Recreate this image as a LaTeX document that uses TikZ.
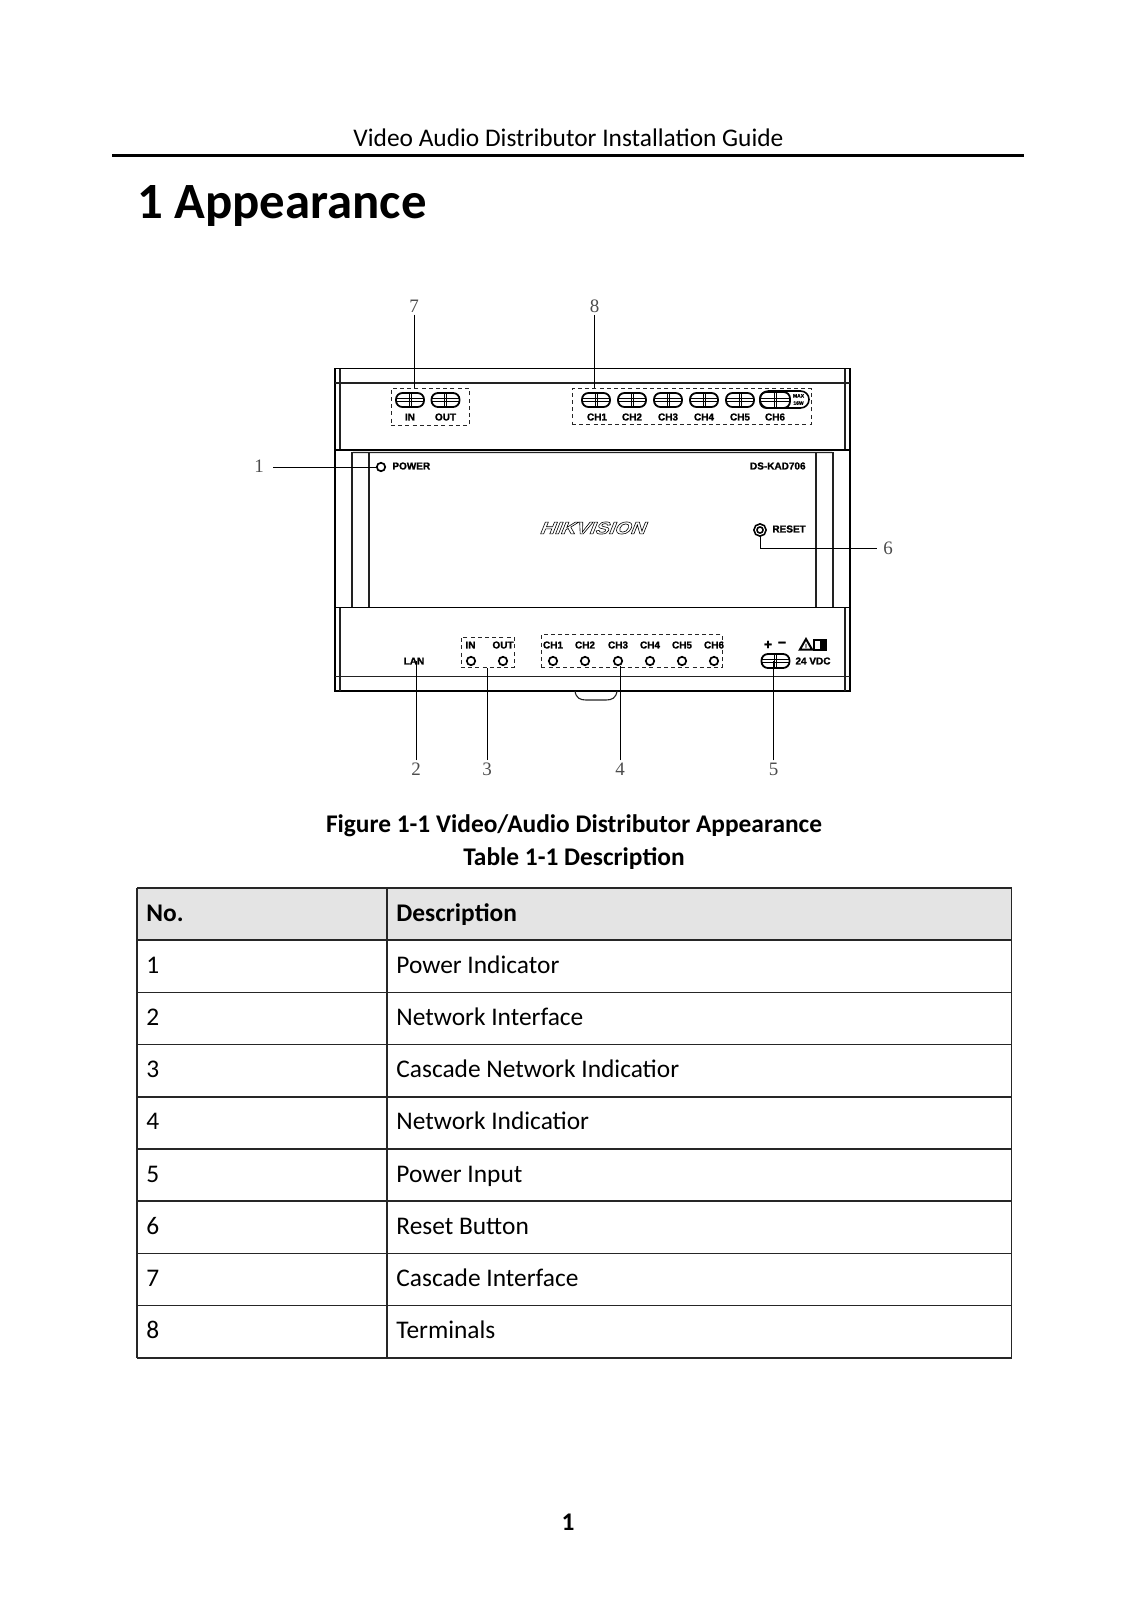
\documentclass[tikz,border=0pt]{standalone}
\usepackage{fontspec}
\usepackage{tikz}
\usetikzlibrary{shapes.geometric}
\setmainfont{Carlito}
\newfontfamily\panelfont[FakeBold=1.3]{Liberation Sans Bold}
\newfontfamily\calloutfont{Liberation Serif}
\newfontfamily\brandfont[FakeStretch=1.2,FakeSlant=0.4]{Liberation Sans Bold}
\definecolor{headgray}{HTML}{E4E4E4}
\definecolor{devline}{HTML}{222222}
\tikzset{
  devthin/.style={draw=devline,line width=0.55pt},
  devthick/.style={draw=black,line width=0.9pt},
  tablerule/.style={draw=black!85,line width=0.75pt},
  callout/.style={draw=black,line width=0.5pt},
  dashbox/.style={draw=black!85,line width=0.45pt,dash pattern=on 2pt off 1.6pt,inner sep=0pt,anchor=north west},
  terminal/.style={rectangle,rounded corners=3.2pt,draw=black,line width=0.9pt,inner sep=0pt,minimum width=14pt,minimum height=7pt,
    path picture={
      \draw[line width=0.5pt]
        ([yshift=0.7pt]path picture bounding box.west) -- ([yshift=0.7pt]path picture bounding box.east)
        ([yshift=-0.7pt]path picture bounding box.west) -- ([yshift=-0.7pt]path picture bounding box.east);
      \draw[line width=0.4pt]
        ([xshift=-0.45pt]path picture bounding box.north) -- ([xshift=-0.45pt]path picture bounding box.south)
        ([xshift=0.45pt]path picture bounding box.north) -- ([xshift=0.45pt]path picture bounding box.south);
    }},
  led/.style={circle,draw=black,line width=0.85pt,inner sep=0pt,minimum size=4.2pt},
  panel/.style={font=\panelfont\fontsize{5}{5}\selectfont,inner sep=0pt},
  number/.style={font=\calloutfont\fontsize{9.5}{10}\selectfont,text=black!70,inner sep=1pt},
  cell/.style={font=\fontsize{12.7}{13}\selectfont,inner sep=0pt,anchor=base west},
  headcell/.style={cell,font=\fontsize{12.7}{13}\selectfont\bfseries}
}
\begin{document}
\begin{tikzpicture}[x=0.5pt,y=-0.5pt]
  \useasboundingbox (0,0) rectangle (1121,1601);

  \node (guide) [inner sep=0pt,anchor=base,font=\fontsize{12.7}{13}\selectfont] at (568.5,146.5) {Video Audio Distributor Installation Guide};
  \path[draw=black,line width=1.1pt] (112,155.5) -- (1024,155.5);
  \node (title) [inner sep=0pt,anchor=base west,font=\fontsize{25.4}{26}\selectfont\bfseries] at (137,218) {1 Appearance};

  \path[draw=black,line width=0.55pt] (335,368.5) rectangle (850,691);
  \path[draw=black,line width=0.9pt] (335,368.5) -- (335,691) (850,368.5) -- (850,691);
  \path[devthin]
    (340,368.5) -- (340,450) (845,368.5) -- (845,450)
    (340,608) -- (340,691) (845,608) -- (845,691)
    (335,383) -- (850,383) (335,676.5) -- (850,676.5)
    (352,452) -- (352,607) (369,452) -- (369,607)
    (816,452) -- (816,607) (833,452) -- (833,607);
  \path[devthick]
    (335,450) -- (850,450) (336,607.5) -- (850,607.5);
  \path[devthin]
    (353,452.5) -- (832,452.5)
    (575,691) .. controls (576,698) and (580,700) .. (586,700) -- (606,700) .. controls (612,700) and (616,698) .. (617,691);

  \node (inbox) [dashbox,minimum width=39pt,minimum height=18.5pt] at (390.5,388) {};
  \node (chbox) [dashbox,minimum width=119.5pt,minimum height=18pt] at (571.5,388) {};
  \node (cascled) [dashbox,minimum width=26.5pt,minimum height=15pt] at (460.5,637) {};
  \node (netled) [dashbox,minimum width=90.5pt,minimum height=16.5pt] at (541,634) {};

  \path[draw=black,line width=0.8pt,rounded corners=4.2pt] (760,391) rectangle (809,408);
  \node (tin) [terminal] at (410,400) {};
  \node (tout) [terminal] at (445.5,400) {};
  \node (lin) [panel] at (410,417) {IN};
  \node (lout) [panel] at (445.5,417) {OUT};
  \foreach \n/\x in {1/596,2/632,3/668,4/704,5/740}
    \node (tch\n) [terminal] at (\x,400) {};
  \node (tch6) [terminal,minimum width=15pt,minimum height=8pt] at (775,400) {};
  \foreach \n/\x in {1/597,2/632,3/668,4/704,5/740,6/775}
    \node (lch\n) [panel] at (\x,417) {CH\n};
  \node (maxw) [panel,align=center,font=\panelfont\fontsize{2.5}{3.6}\selectfont] at (798.5,399.5) {MAX\\16W};

  \node (powerled) [led] at (381,467) {};
  \node (lpower) [panel,anchor=west] at (392,466) {POWER};
  \node (lmodel) [panel,anchor=east] at (806,466) {DS-KAD706};
  \node (brand) [inner sep=0pt,font=\brandfont\fontsize{8.6}{9}\selectfont] at (592,528)
    {\special{pdf:code q 1 Tr 0.3 w}HIKVISION\special{pdf:code Q}};
  \node (resetled) [led,double=white,double distance=0.5pt,minimum size=4.6pt] at (760,530) {};
  \node (lreset) [panel,anchor=west] at (772,529) {RESET};

  \node (llan) [panel] at (414,661) {LAN};
  \node (ledin) [panel] at (470.5,645) {IN};
  \node (ledout) [panel] at (503,645) {OUT};
  \node (cin) [led] at (471,661) {};
  \node (cout) [led] at (503,661) {};
  \foreach \n/\x in {1/553,2/585,3/618,4/650,5/682,6/714} {
    \node (nch\n) [panel] at (\x,645) {CH\n};
    \node (nled\n) [led] at (\x,661) {};
  }
  \node (lplus) [panel,font=\panelfont\fontsize{7}{7}\selectfont] at (768,645) {+};
  \node (lminus) [panel,font=\panelfont\fontsize{7}{7}\selectfont] at (782,644.5) {\textminus};
  \node (warn) [regular polygon,regular polygon sides=3,draw=black,line width=1pt,inner sep=0pt,minimum size=7pt,font=\panelfont\fontsize{3}{3}\selectfont] at (806,646) {!};
  \path[draw=black,line width=0.6pt] (814,640) rectangle (826,650);
  \path[fill=black] (820,640) rectangle (826,650);
  \node (tpower) [terminal] at (775.5,661) {};
  \node (lvdc) [panel] at (813,661) {24 VDC};

  \node (num1) [number,inner xsep=4.5pt] at (259,466) {1};
  \node (num2) [number] at (416,769) {2};
  \node (num3) [number] at (487,769) {3};
  \node (num4) [number] at (620,769) {4};
  \node (num5) [number] at (773.5,769) {5};
  \node (num6) [number,inner xsep=3pt] at (888,548) {6};
  \node (num7) [number] at (414,306) {7};
  \node (num8) [number] at (594.5,306) {8};

  \path[callout]
    (num7.south) -- (num7.south |- inbox.north)
    (num8.south) -- (num8.south |- chbox.north)
    (num1.east |- powerled.west) -- (powerled.west)
    (resetled.south) |- (num6.west)
    (num2.north) -- (num2.north |- llan.center)
    (num3.north) -- (num3.north |- cascled.south)
    (num4.north) -- (num4.north |- nled3.south)
    (num5.north) -- (num5.north |- tpower.center);

  \node (figcap) [inner sep=0pt,anchor=base,font=\fontsize{12.7}{13}\selectfont\bfseries] at (574,832) {Figure 1-1 Video/Audio Distributor Appearance};
  \node (tabcap) [inner sep=0pt,anchor=base,font=\fontsize{12.7}{13}\selectfont\bfseries] at (574,865) {Table 1-1 Description};

  \path[fill=headgray] (137,888) rectangle (1011.5,940.2);
  \foreach \r in {0,...,9}
    \path[tablerule] (137,888+52.2*\r) -- (1011.5,888+52.2*\r);
  \path[tablerule] (137,888) -- (137,1357.8) (387,888) -- (387,1357.8) (1011.5,888) -- (1011.5,1357.8);

  \node (headno) [headcell] at (146,921) {No.};
  \node (headdesc) [headcell] at (396,921) {Description};
  \foreach \n/\d in {1/Power Indicator,2/Network Interface,3/Cascade Network Indicatior,4/Network Indicatior,5/Power Input,6/Reset Button,7/Cascade Interface,8/Terminals} {
    \node (no\n) [cell] at (146,921+52.2*\n) {\n};
    \node (desc\n) [cell] at (396,921+52.2*\n) {\d};
  }

  \node (pageno) [inner sep=0pt,anchor=base,font=\fontsize{12.7}{13}\selectfont\bfseries] at (568,1530) {1};
\end{tikzpicture}
\end{document}
